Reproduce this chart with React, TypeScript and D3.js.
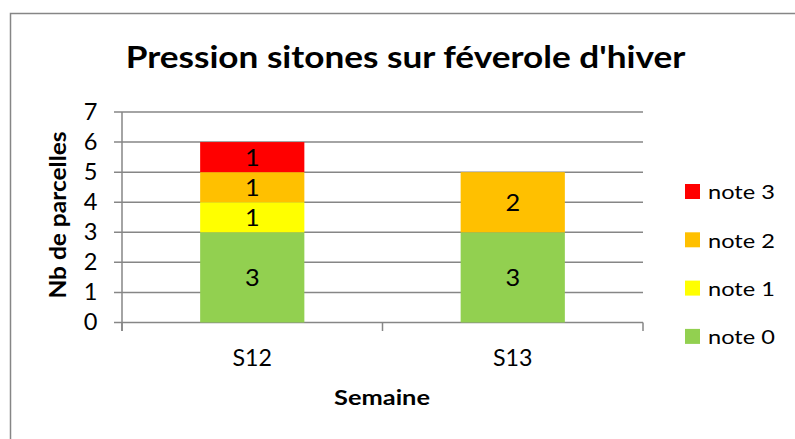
import React from "react";
import * as d3 from "d3";

const categories = ["S12", "S13"];
const seriesNames = ["note 0", "note 1", "note 2", "note 3"];
const note0 = [3, 3];
const note1 = [1, 0];
const note2 = [1, 2];
const note3 = [1, 0];
const yTicks = [0, 1, 2, 3, 4, 5, 6, 7];
const colors = ["#92D050", "#FFFF00", "#FFC000", "#FF0000"];

const title = "Pression sitones sur féverole d'hiver";
const xLabel = "Semaine";
const yLabel = "Nb de parcelles";

const FONT = "Lato, 'Noto Sans', sans-serif";
const GRID = "#868686";

const App = () => {
  const width = 795;
  const height = 439;
  const plot = { left: 122, right: 643, top: 112, bottom: 322.5 };

  const rows = categories.map((c, i) => ({
    cat: c,
    "note 0": note0[i],
    "note 1": note1[i],
    "note 2": note2[i],
    "note 3": note3[i],
  }));
  const stacked = d3.stack<any>().keys(seriesNames)(rows);

  const x = d3
    .scaleBand()
    .domain(categories)
    .range([plot.left, plot.right])
    .paddingInner(0.6)
    .paddingOuter(0.3);
  const y = d3.scaleLinear().domain([0, 7]).range([plot.bottom, plot.top]);

  // limites des catégories pour les graduations de l'axe x
  const step = (plot.right - plot.left) / categories.length;
  const xBounds = d3.range(categories.length + 1).map((i) => plot.left + i * step);

  const legendOrder = [...seriesNames].reverse();

  // texte avec un léger étirement horizontal (sx) pour coller au rendu Calibri
  const txt = (
    key: string,
    tx: number,
    ty: number,
    s: string,
    size: number,
    sx: number,
    opts: { anchor?: string; bold?: boolean; rotate?: boolean } = {},
  ) => (
    <text
      key={key}
      transform={`translate(${tx},${ty}) scale(${sx},1)${opts.rotate ? " rotate(-90)" : ""}`}
      textAnchor={opts.anchor || "middle"}
      fontFamily={FONT}
      fontSize={size}
      fontWeight={opts.bold ? "bold" : "normal"}
      fill="#000"
    >
      {s}
    </text>
  );

  return (
    <svg
      width={width}
      height={height}
      style={{ position: "absolute", left: 0, top: 0, background: "#fff" }}
    >
      <rect x={0} y={0} width={width} height={height} fill="#fff" />
      {/* cadre du graphique */}
      <rect x={10.5} y={13.5} width={900} height={600} fill="none" stroke={GRID} strokeWidth={1.5} />

      {txt("title", 405.5, 68, title, 31.4, 1.12, { bold: true })}

      {/* grille horizontale + graduations */}
      {yTicks.map((t) => (
        <g key={"g" + t}>
          <line x1={plot.left - 8} x2={plot.right} y1={y(t)} y2={y(t)} stroke={GRID} strokeWidth={1.5} />
          {txt("yt" + t, 97.5, y(t) + 7.5, String(t), 22.5, 1.05, { anchor: "end" })}
        </g>
      ))}
      <line x1={plot.left} x2={plot.left} y1={plot.top} y2={plot.bottom + 8.5} stroke={GRID} strokeWidth={1.5} />
      {xBounds.map((b, i) => (
        <line key={"xb" + i} x1={b} x2={b} y1={plot.bottom} y2={plot.bottom + 8.5} stroke={GRID} strokeWidth={1.5} />
      ))}

      {/* barres empilées */}
      {stacked.map((layer, li) => (
        <g key={layer.key} fill={colors[li]}>
          {layer.map((d, i) => {
            const v = d[1] - d[0];
            if (v <= 0) return null;
            const cx = (x(categories[i]) as number) + x.bandwidth() / 2;
            return (
              <g key={i}>
                <rect
                  x={x(categories[i])}
                  y={y(d[1])}
                  width={x.bandwidth()}
                  height={y(d[0]) - y(d[1])}
                />
                {txt("dl" + li + i, cx, (y(d[0]) + y(d[1])) / 2 + 8.5, String(v), 23, 1.1)}
              </g>
            );
          })}
        </g>
      ))}

      {categories.map((c) =>
        txt("xc" + c, (x(c) as number) + x.bandwidth() / 2, 365.5, c, 22.3, 1.04),
      )}

      {txt("xl", 382, 405, xLabel, 21, 1.21, { bold: true })}
      {txt("yl", 66, 215, yLabel, 24.5, 0.95, { bold: true, rotate: true })}

      {/* légende */}
      {legendOrder.map((name, i) => {
        const top = 184 + i * 48.3;
        const ci = seriesNames.indexOf(name);
        return (
          <g key={"lg" + name}>
            <rect x={685} y={top} width={15} height={15} fill={colors[ci]} />
            {txt("lt" + name, 708, top + 15.3, name, 19.5, 1.21, { anchor: "start" })}
          </g>
        );
      })}
    </svg>
  );
};

export default App;
